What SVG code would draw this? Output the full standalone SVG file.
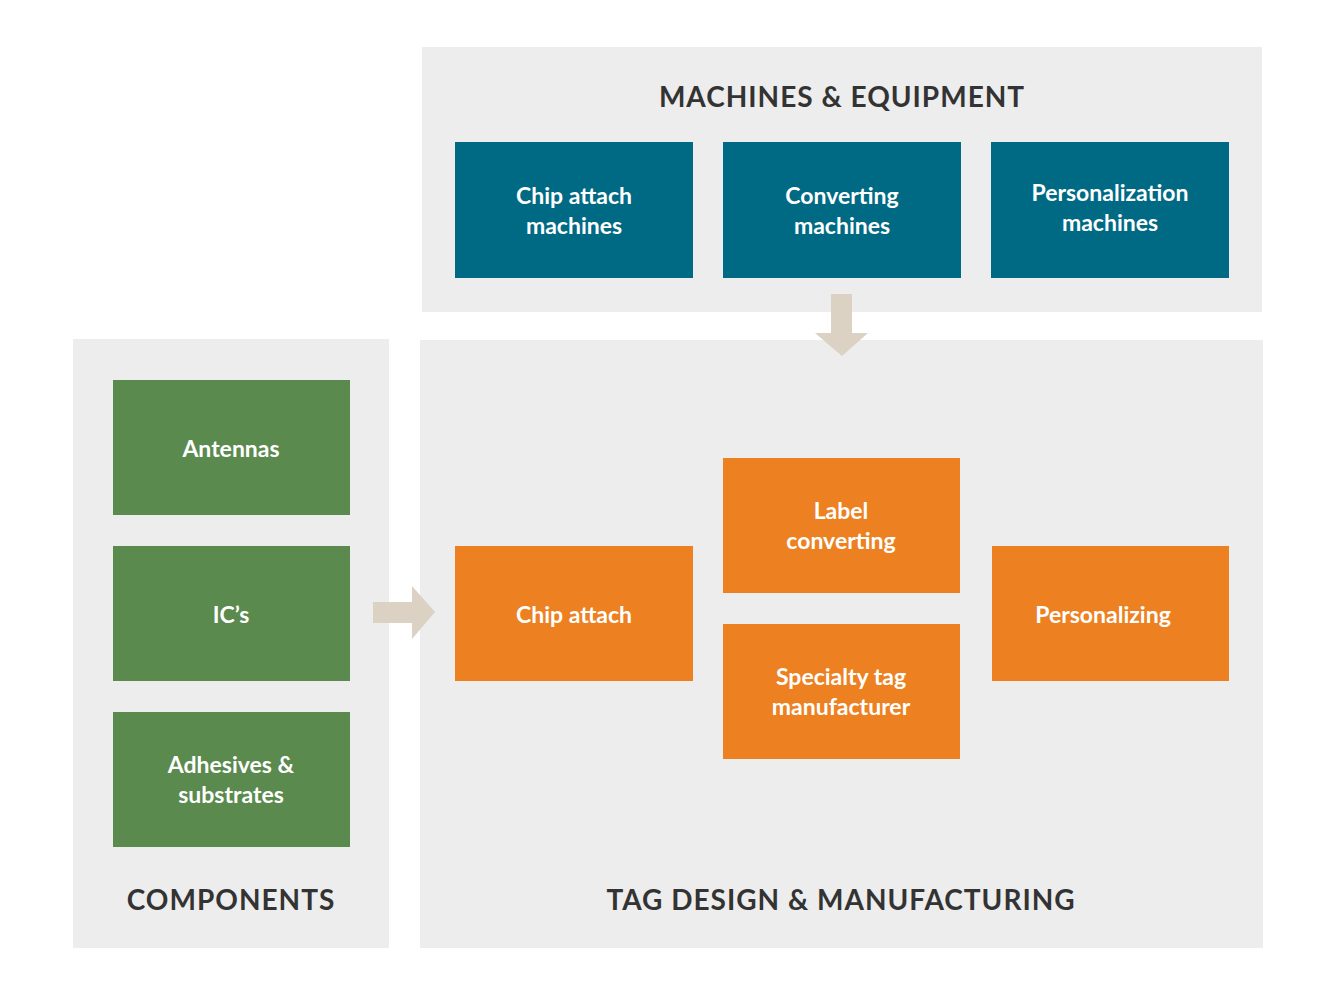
<svg xmlns="http://www.w3.org/2000/svg" width="1333" height="1000" viewBox="0 0 1333 1000">
<style>
.panel{fill:#ededed}
.blue{fill:#006a84}
.green{fill:#5a8a4e}
.orange{fill:#ed8122}
.t{font-family:Lato,"Liberation Sans",sans-serif;font-weight:700;font-size:23px;fill:#fff;text-anchor:middle}
.h{font-family:Lato,"Liberation Sans",sans-serif;font-weight:700;font-size:28px;fill:#333;text-anchor:middle;letter-spacing:1px}
.arr{fill:#dbd2c3}
</style>
<rect width="1333" height="1000" fill="#fff"/>
<g id="machines"><rect class="panel" x="422" y="47" width="840" height="265"/><text class="h" x="842" y="107">MACHINES &amp; EQUIPMENT</text></g>
<g id="components"><rect class="panel" x="73" y="339" width="316" height="609"/><text class="h" x="231" y="910">COMPONENTS</text></g>
<g id="tag"><rect class="panel" x="420" y="340" width="843" height="608"/><text class="h" x="841" y="910">TAG DESIGN &amp; MANUFACTURING</text></g>
<g id="n1"><rect class="blue" x="455" y="142" width="238" height="136"/><text class="t" x="574" y="204">Chip attach</text><text class="t" x="574" y="234">machines</text></g>
<g id="n2"><rect class="blue" x="723" y="142" width="238" height="136"/><text class="t" x="842" y="204">Converting</text><text class="t" x="842" y="234">machines</text></g>
<g id="n3"><rect class="blue" x="991" y="142" width="238" height="136"/><text class="t" x="1110" y="201">Personalization</text><text class="t" x="1110" y="231">machines</text></g>
<g id="n4"><rect class="green" x="113" y="380" width="237" height="135"/><text class="t" x="231" y="457">Antennas</text></g>
<g id="n5"><rect class="green" x="113" y="546" width="237" height="135"/><text class="t" x="231" y="623">IC’s</text></g>
<g id="n6"><rect class="green" x="113" y="712" width="237" height="135"/><text class="t" x="231" y="773">Adhesives &amp;</text><text class="t" x="231" y="803">substrates</text></g>
<g id="n7"><rect class="orange" x="455" y="546" width="238" height="135"/><text class="t" x="574" y="623">Chip attach</text></g>
<g id="n8"><rect class="orange" x="723" y="458" width="237" height="135"/><text class="t" x="841" y="519">Label</text><text class="t" x="841" y="549">converting</text></g>
<g id="n9"><rect class="orange" x="723" y="624" width="237" height="135"/><text class="t" x="841" y="685">Specialty tag</text><text class="t" x="841" y="715">manufacturer</text></g>
<g id="n10"><rect class="orange" x="992" y="546" width="237" height="135"/><text class="t" x="1103" y="623">Personalizing</text></g>
<g id="connectors">
<polygon class="arr" points="831,294 852,294 852,333 868,333 842,356 815,333 831,333"/>
<polygon class="arr" points="373,602 412,602 412,586 435,612 412,639 412,623 373,623"/>
</g>
</svg>
